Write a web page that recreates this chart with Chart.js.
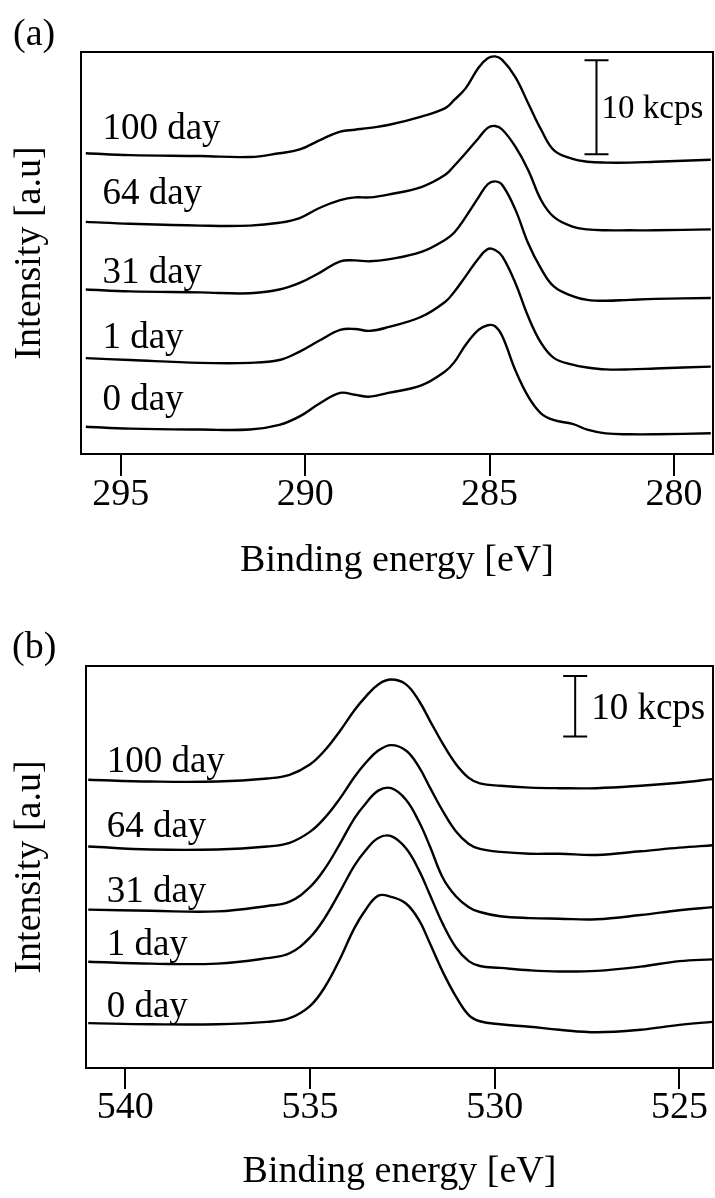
<!DOCTYPE html>
<html>
<head>
<meta charset="utf-8">
<title>XPS C1s / O1s</title>
<script src="https://cdn.jsdelivr.net/npm/chart.js@4.4.0/dist/chart.umd.min.js"></script>
<style>
  html, body { margin: 0; padding: 0; background: #fff; }
  #wrap { position: relative; width: 715px; height: 1198px; overflow: hidden; }
  #wrap canvas { position: absolute; left: 0; display: block; }
  #c1s { top: 0; }
  #o1s { top: 600px; }
</style>
</head>
<body>
<div id="wrap">
  <canvas id="c1s" width="715" height="600"></canvas>
  <canvas id="o1s" width="715" height="598"></canvas>
</div>
<script>
// ---- C1s region, stacked spectra in kcps (offset already applied) ----
const energyC1s = [295.95, 294.75, 292.85, 291.5, 290.7, 290.15, 289.6, 289.05, 288.65, 288.25,
  287.75, 286.85, 286.2, 285.95, 285.65, 285.3, 285.05, 284.85, 284.65, 284.3,
  283.95, 283.6, 283.25, 282.75, 282.35, 281.85, 281.2, 280.5, 279.0];
const c1s100 = [32.0, 31.8, 31.7, 31.6, 32.0, 32.4, 33.4, 34.3, 34.5, 34.7,
  35.0, 35.9, 36.8, 37.7, 38.9, 41.1, 42.1, 42.3, 41.9, 40.1,
  37.3, 34.5, 32.3, 31.4, 31.1, 31.0, 31.0, 31.1, 31.3];
const c1s64 = [24.7, 24.5, 24.3, 24.3, 24.6, 25.1, 26.2, 27.0, 27.3, 27.3,
  27.6, 28.4, 29.7, 30.7, 32.0, 33.6, 34.7, 34.9, 34.5, 32.7,
  30.2, 27.0, 25.2, 24.2, 23.9, 23.8, 23.8, 23.8, 23.9];
const c1s31 = [17.5, 17.3, 17.2, 17.1, 17.5, 18.2, 19.3, 20.5, 20.6, 20.5,
  20.7, 21.5, 22.8, 23.6, 25.2, 27.3, 28.7, 29.0, 28.6, 26.0,
  22.4, 19.7, 17.8, 16.8, 16.4, 16.3, 16.4, 16.5, 16.6];
const c1s1 = [10.2, 10.0, 9.7, 9.7, 10.0, 10.9, 12.1, 13.2, 13.3, 13.1,
  13.5, 14.6, 16.2, 17.3, 18.9, 20.8, 21.8, 21.7, 21.0, 18.2,
  14.6, 11.8, 10.2, 9.5, 9.2, 9.0, 9.0, 9.1, 9.3];
const c1s0 = [2.9, 2.7, 2.6, 2.6, 3.1, 4.0, 5.4, 6.5, 6.3, 6.1,
  6.5, 7.3, 8.8, 9.8, 11.6, 13.2, 13.7, 13.6, 12.5, 8.9,
  6.1, 4.3, 3.6, 3.2, 2.6, 2.2, 2.1, 2.1, 2.2];
const ticksC1s = [295, 290, 285, 280];
const tickLabelsC1s = ['295', '290', '285', '280'];

// ---- O1s region ----
const energyO1s = [541.0, 539.3, 537.5, 536.15, 535.55, 535.0, 534.6, 534.2, 533.8, 533.5,
  533.15, 532.8, 532.4, 532.05, 531.75, 531.4, 531.05, 530.7, 530.4, 529.85,
  529.05, 528.25, 527.25, 526.05, 525.0, 524.1];
const o1s100 = [47.5, 47.2, 47.2, 47.7, 48.3, 50.0, 52.3, 55.4, 58.9, 61.1,
  63.2, 64.0, 63.2, 60.5, 57.2, 53.4, 50.1, 47.8, 46.9, 46.5,
  46.2, 46.1, 46.1, 46.5, 47.0, 47.6];
const o1s64 = [36.5, 36.0, 36.0, 36.5, 37.1, 38.9, 41.2, 44.3, 47.9, 50.2,
  52.3, 53.2, 52.3, 49.6, 46.2, 42.3, 39.0, 36.9, 36.1, 35.6,
  35.3, 35.3, 35.1, 35.7, 36.3, 36.7];
const o1s31 = [26.1, 25.9, 25.8, 26.7, 27.4, 29.8, 32.8, 36.8, 41.1, 43.5,
  45.7, 46.1, 44.2, 40.6, 36.5, 31.3, 28.3, 26.5, 25.7, 25.0,
  24.7, 24.6, 24.5, 25.2, 26.0, 26.5];
const o1s1 = [17.5, 17.2, 17.2, 18.1, 18.9, 21.5, 24.7, 28.9, 33.3, 35.8,
  37.9, 38.2, 36.2, 32.6, 28.5, 23.7, 19.9, 17.6, 16.8, 16.5,
  16.1, 15.9, 16.0, 16.7, 17.6, 17.9];
const o1s0 = [7.4, 7.2, 7.2, 7.6, 8.2, 10.2, 13.3, 17.8, 23.0, 26.0,
  28.4, 28.2, 27.1, 24.4, 20.5, 15.8, 11.8, 8.7, 7.7, 7.2,
  6.8, 6.3, 5.9, 6.3, 7.1, 7.6];
const ticksO1s = [540, 535, 530, 525];
const tickLabelsO1s = ['540', '535', '530', '525'];

const sampleNames = ['100 day', '64 day', '31 day', '1 day', '0 day'];

const SERIF = '"Liberation Serif", "Times New Roman", serif';

// frame, panel tag, 10 kcps bar and sample names
const decorPlugin = {
  id: 'decor',
  afterDatasetsDraw(chart, args, o) {
    const { ctx, chartArea: a, scales } = chart;
    const xs = scales.x, ys = scales.y;
    ctx.save();
    ctx.strokeStyle = '#000';
    ctx.fillStyle = '#000';
    ctx.lineWidth = 2;
    ctx.strokeRect(a.left, a.top, a.right - a.left, a.bottom - a.top);

    ctx.font = '38px ' + SERIF;
    ctx.textAlign = 'left';
    ctx.textBaseline = 'alphabetic';
    ctx.fillText(o.tag, o.tagX, o.tagY);

    // scale bar
    const bx = xs.getPixelForValue(o.bar.energy);
    const by0 = ys.getPixelForValue(o.bar.from);
    const by1 = ys.getPixelForValue(o.bar.from + o.bar.span);
    ctx.beginPath();
    ctx.moveTo(bx, by0); ctx.lineTo(bx, by1);
    ctx.moveTo(bx - o.bar.cap, by0); ctx.lineTo(bx + o.bar.cap, by0);
    ctx.moveTo(bx - o.bar.cap, by1); ctx.lineTo(bx + o.bar.cap, by1);
    ctx.stroke();
    ctx.font = o.bar.size + 'px ' + SERIF;
    ctx.fillText('10 kcps', bx + o.bar.gap, (by0 + by1) / 2 + o.bar.size * 0.34);

    ctx.font = '37px ' + SERIF;
    const lx = xs.getPixelForValue(o.labelEnergy);
    sampleNames.forEach((name, i) => {
      ctx.fillText(name, lx, ys.getPixelForValue(o.labelLevels[i]));
    });
    ctx.restore();
  }
};

function makePanel(p) {
  const datasets = p.series.map((vals, i) => ({
    label: sampleNames[i],
    data: vals.map((v, k) => ({ x: p.energies[k], y: v })),
    borderColor: '#000',
    borderWidth: 2.4,
    pointRadius: 0,
    fill: false,
    tension: 0.4
  }));

  return new Chart(document.getElementById(p.canvas), {
    type: 'line',
    data: { datasets },
    plugins: [decorPlugin],
    options: {
      responsive: false,
      animation: false,
      events: [],
      layout: { padding: { top: p.top, right: 2, left: 0, bottom: 0 } },
      plugins: {
        legend: { display: false },
        tooltip: { enabled: false },
        decor: p.decor
      },
      scales: {
        x: {
          type: 'linear',
          reverse: true,
          min: p.xMin,
          max: p.xMax,
          afterBuildTicks: s => { s.ticks = p.ticks.map(v => ({ value: v })); },
          ticks: {
            autoSkip: false,
            maxRotation: 0,
            padding: 0,
            color: '#000',
            font: { family: SERIF, size: 38, lineHeight: 1 },
            callback: (v, i) => p.tickLabels[i]
          },
          grid: {
            display: true,
            drawOnChartArea: false,
            drawTicks: true,
            tickLength: p.tickLength,
            color: '#000',
            lineWidth: 2
          },
          border: { display: false },
          title: {
            display: true,
            text: 'Binding energy [eV]',
            color: '#000',
            font: { family: SERIF, size: 38, lineHeight: 1 },
            padding: { top: 0, bottom: p.titlePad }
          },
          afterFit: s => { s.height = p.xHeight; }
        },
        y: {
          min: 0,
          max: p.yMax,
          ticks: { display: false },
          grid: { display: false },
          border: { display: false },
          title: {
            display: true,
            text: 'Intensity [a.u]',
            color: '#000',
            font: { family: SERIF, size: 38, lineHeight: 1 },
            padding: { top: 11, bottom: 0 }
          },
          afterFit: s => { s.width = p.yWidth; }
        }
      }
    }
  });
}

makePanel({
  canvas: 'c1s',
  energies: energyC1s,
  series: [c1s100, c1s64, c1s31, c1s1, c1s0],
  ticks: ticksC1s,
  tickLabels: tickLabelsC1s,
  xMin: 278.94, xMax: 296.08, yMax: 42.77,
  top: 52, yWidth: 81, xHeight: 146, tickLength: 22, titlePad: 20,
  decor: {
    tag: '(a)', tagX: 13, tagY: 45,
    bar: { energy: 282.1, from: 31.9, span: 10, cap: 12, gap: 5, size: 33 },
    labelEnergy: 295.5,
    labelLevels: [33.5, 26.6, 18.2, 11.3, 4.7]
  }
});

makePanel({
  canvas: 'o1s',
  energies: energyO1s,
  series: [o1s100, o1s64, o1s31, o1s1, o1s0],
  ticks: ticksO1s,
  tickLabels: tickLabelsO1s,
  xMin: 524.09, xMax: 541.06, yMax: 66.23,
  top: 66, yWidth: 86, xHeight: 130, tickLength: 21, titlePad: 7,
  decor: {
    tag: '(b)', tagX: 12, tagY: 58,
    bar: { energy: 527.82, from: 54.6, span: 10, cap: 12, gap: 16, size: 37 },
    labelEnergy: 540.5,
    labelLevels: [48.8, 38.1, 27.4, 18.6, 8.4]
  }
});
</script>
</body>
</html>
